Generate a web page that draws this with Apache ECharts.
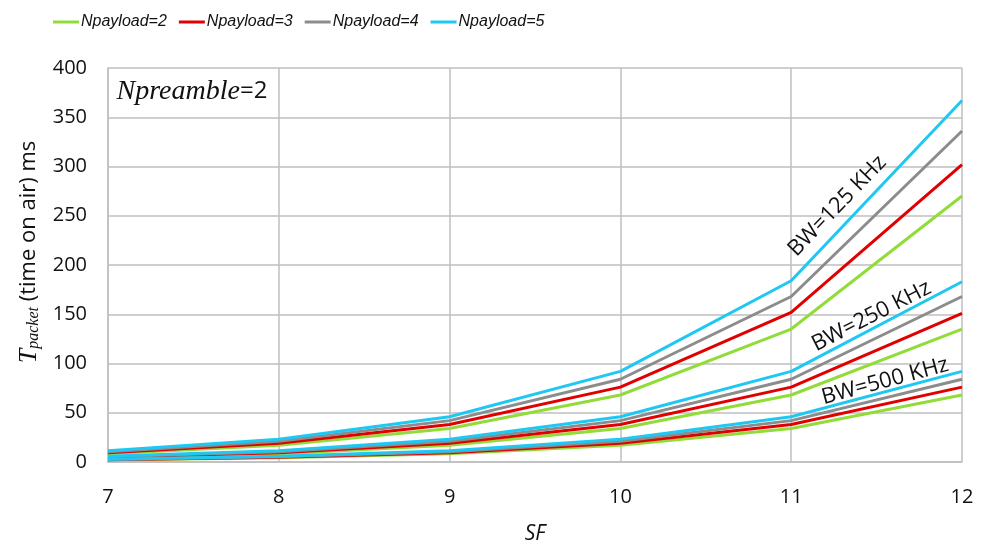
<!DOCTYPE html>
<html>
<head>
<meta charset="utf-8">
<script src="https://cdn.jsdelivr.net/npm/echarts@6/dist/echarts.min.js"></script>
<style>html,body{margin:0;padding:0;background:#fff}#c{width:989px;height:547px}</style>
</head>
<body>
<div id="c"></div>
<script>
// ---- data ----
const sfValues = [7, 8, 9, 10, 11, 12];
const payloadNames = ['Npayload=2', 'Npayload=3', 'Npayload=4', 'Npayload=5'];
const yTicks = [0, 50, 100, 150, 200, 250, 300, 350, 400];
// BW = 125 kHz (ms)
const bw125_p2 = [8.5, 17, 34, 68, 135, 270];
const bw125_p3 = [9.5, 19, 38, 76, 152, 302];
const bw125_p4 = [10.5, 21, 42, 84, 168, 336];
const bw125_p5 = [11.5, 23, 46, 92, 184, 367];
// BW = 250 kHz (ms)
const bw250_p2 = [4.3, 8.5, 17, 34, 68, 135];
const bw250_p3 = [4.8, 9.5, 19, 38, 76, 151];
const bw250_p4 = [5.3, 10.5, 21, 42, 84, 168];
const bw250_p5 = [5.8, 11.5, 23, 46, 92, 183];
// BW = 500 kHz (ms)
const bw500_p2 = [2.1, 4.3, 8.5, 17, 34, 68];
const bw500_p3 = [2.4, 4.8, 9.5, 19, 38, 76];
const bw500_p4 = [2.6, 5.3, 10.5, 21, 42, 84];
const bw500_p5 = [2.9, 5.8, 11.5, 23, 46, 92];

const colors = ['#92DC3A', '#E00000', '#8C8C8C', '#1EC8F2'];
const groups = [
  [bw500_p2, bw500_p3, bw500_p4, bw500_p5],
  [bw250_p2, bw250_p3, bw250_p4, bw250_p5],
  [bw125_p2, bw125_p3, bw125_p4, bw125_p5]
];

const series = [];
groups.forEach(g => {
  g.forEach((vals, i) => {
    series.push({
      type: 'line',
      name: payloadNames[i],
      data: sfValues.map((sf, k) => [sf, vals[k]]),
      showSymbol: false,
      symbol: 'none',
      lineStyle: { width: 3, color: colors[i] },
      itemStyle: { color: colors[i] },
      z: 2 + i
    });
  });
});

const chart = echarts.init(document.getElementById('c'));
const labelFont = "'Open Sans', 'Liberation Sans', sans-serif";
chart.setOption({
  animation: false,
  backgroundColor: '#fff',
  grid: { left: 108, right: 27, top: 68, bottom: 85, containLabel: false, outerBoundsMode: 'none' },
  legend: {
    data: payloadNames,
    left: 48, top: 9,
    icon: 'rect',
    itemWidth: 26, itemHeight: 3,
    itemGap: 12,
    textStyle: { fontFamily: "'Liberation Sans Narrow', 'Liberation Sans', sans-serif", fontStyle: 'italic', fontSize: 16, color: '#111', padding: [0,0,0,-3] }
  },
  xAxis: {
    type: 'value', min: 7, max: 12, interval: 1,
    name: 'SF', nameLocation: 'middle', nameGap: 62,
    nameTextStyle: { fontFamily: labelFont, fontStyle: 'italic', fontSize: 21, color: '#111' },
    axisLine: { show: true, lineStyle: { color: '#BFBFBF', width: 1.5 } },
    axisTick: { show: false },
    axisLabel: { fontFamily: labelFont, fontSize: 20, color: '#111', margin: 25 },
    splitLine: { show: true, lineStyle: { color: '#BFBFBF', width: 1.5 } }
  },
  yAxis: {
    type: 'value', min: 0, max: 400, interval: 50,
    name: '{t|T}{s|packet} (time on air) ms',
    nameLocation: 'middle', nameGap: 66, nameRotate: 90,
    nameTextStyle: {
      fontFamily: labelFont, fontSize: 22, color: '#111',
      padding: [0, 0, 0, 26],
      rich: {
        t: { fontFamily: "'Liberation Serif', serif", fontStyle: 'italic', fontSize: 26, color: '#111' },
        s: { fontFamily: "'Liberation Serif', serif", fontStyle: 'italic', fontSize: 16, color: '#111', verticalAlign: 'bottom', padding: [10,0,0,0] }
      }
    },
    axisLine: { show: true, lineStyle: { color: '#BFBFBF', width: 1.5 } },
    axisTick: { show: false },
    axisLabel: { fontFamily: labelFont, fontSize: 20, color: '#111', margin: 21 },
    splitLine: { show: true, lineStyle: { color: '#BFBFBF', width: 1.5 } }
  },
  series: series
});

function place() {
  const p = (x, y) => chart.convertToPixel({ gridIndex: 0 }, [x, y]);
  const a125 = p(11.27, 260);
  const a250 = p(11.47, 148);
  const a500 = p(11.55, 82);
  const pre = p(7.05, 376);
  const f = "22px 'Open Sans', sans-serif";
  chart.setOption({
    graphic: [
      { type: 'text', x: a125[0], y: a125[1], rotation: 46 * Math.PI / 180,
        style: { text: 'BW=125 KHz', fill: '#111', font: f, align: 'center', verticalAlign: 'middle' } },
      { type: 'text', x: a250[0], y: a250[1], rotation: 27 * Math.PI / 180,
        style: { text: 'BW=250 KHz', fill: '#111', font: f, align: 'center', verticalAlign: 'middle' } },
      { type: 'text', x: a500[0], y: a500[1], rotation: 15 * Math.PI / 180,
        style: { text: 'BW=500 KHz', fill: '#111', font: f, align: 'center', verticalAlign: 'middle' } },
      { type: 'text', x: pre[0], y: pre[1],
        style: {
          text: '{i|Npreamble}{n|=2}', fill: '#111', verticalAlign: 'middle',
          rich: {
            i: { fontFamily: "'Liberation Serif', serif", fontStyle: 'italic', fontSize: 28, fill: '#111' },
            n: { fontFamily: "'Open Sans', sans-serif", fontSize: 24, fill: '#111' }
          }
        } }
    ]
  });
}
place();
</script>
</body>
</html>
